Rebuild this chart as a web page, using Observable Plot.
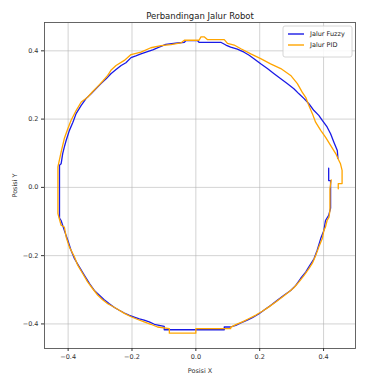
<!DOCTYPE html>
<html><head><meta charset="utf-8">
<script src="https://cdn.jsdelivr.net/npm/d3@7"></script>
<script src="https://cdn.jsdelivr.net/npm/@observablehq/plot@0.6"></script>
<style>body{margin:0;background:#fff;font-family:"DejaVu Sans",sans-serif}</style>
</head><body><div id="chart"></div>
<script>
const title = "Perbandingan Jalur Robot";
const seriesNames = ["Jalur Fuzzy", "Jalur PID"];
const seriesColors = ["#1a1ae6", "orange"];
const xTicks = [-0.4, -0.2, 0.0, 0.2, 0.4];
const yTicks = [-0.4, -0.2, 0.0, 0.2, 0.4];

const fuzzyX = [0.416,0.416,0.422,0.422,0.416,0.406,0.401,0.391,0.380,0.370,0.354,0.344,0.328,0.313,0.297,0.276,0.255,0.234,0.213,0.198,0.177,0.161,0.141,0.125,0.109,0.089,0.089,-0.099,-0.099,-0.115,-0.130,-0.146,-0.162,-0.177,-0.193,-0.208,-0.224,-0.240,-0.255,-0.271,-0.287,-0.302,-0.318,-0.333,-0.349,-0.365,-0.380,-0.391,-0.401,-0.412,-0.422,-0.427,-0.427,-0.422,-0.417,-0.412,-0.406,-0.396,-0.385,-0.375,-0.359,-0.344,-0.328,-0.313,-0.297,-0.281,-0.266,-0.250,-0.234,-0.219,-0.203,-0.188,-0.172,-0.156,-0.135,-0.115,-0.094,-0.057,-0.036,-0.031,0.005,0.010,0.078,0.094,0.109,0.130,0.151,0.167,0.182,0.203,0.224,0.245,0.266,0.286,0.307,0.323,0.339,0.354,0.370,0.385,0.396,0.411,0.422,0.432,0.443,0.445];
const fuzzyY = [0.056,0.020,0.020,-0.061,-0.082,-0.097,-0.126,-0.150,-0.184,-0.209,-0.233,-0.248,-0.267,-0.287,-0.302,-0.316,-0.331,-0.346,-0.360,-0.370,-0.382,-0.389,-0.397,-0.404,-0.409,-0.409,-0.417,-0.417,-0.407,-0.404,-0.401,-0.394,-0.389,-0.385,-0.380,-0.375,-0.368,-0.360,-0.352,-0.341,-0.329,-0.316,-0.302,-0.282,-0.258,-0.233,-0.209,-0.184,-0.155,-0.126,-0.097,-0.090,0.065,0.069,0.099,0.118,0.138,0.167,0.191,0.216,0.240,0.260,0.274,0.289,0.304,0.318,0.333,0.345,0.357,0.365,0.380,0.385,0.391,0.396,0.403,0.411,0.419,0.423,0.425,0.430,0.430,0.425,0.425,0.417,0.411,0.405,0.396,0.387,0.377,0.362,0.348,0.333,0.318,0.304,0.289,0.274,0.260,0.245,0.225,0.211,0.196,0.177,0.157,0.133,0.108,0.085];

const pidX = [0.424,0.420,0.420,0.417,0.411,0.406,0.401,0.396,0.385,0.375,0.365,0.354,0.339,0.323,0.307,0.292,0.271,0.250,0.229,0.208,0.188,0.167,0.146,0.125,0.109,0.109,0.000,0.000,-0.083,-0.083,-0.120,-0.141,-0.162,-0.182,-0.203,-0.224,-0.245,-0.260,-0.276,-0.292,-0.307,-0.323,-0.339,-0.354,-0.370,-0.380,-0.396,-0.406,-0.412,-0.422,-0.432,-0.432,-0.422,-0.412,-0.401,-0.391,-0.375,-0.359,-0.339,-0.323,-0.307,-0.292,-0.276,-0.266,-0.250,-0.224,-0.203,-0.172,-0.141,-0.109,-0.078,-0.047,-0.036,0.010,0.016,0.026,0.036,0.089,0.099,0.120,0.141,0.172,0.203,0.234,0.266,0.297,0.318,0.333,0.344,0.354,0.365,0.375,0.391,0.406,0.422,0.438,0.448,0.453,0.458,0.458,0.446,0.446];
const pidY = [0.022,-0.004,-0.067,-0.087,-0.097,-0.116,-0.126,-0.150,-0.175,-0.200,-0.222,-0.238,-0.258,-0.277,-0.294,-0.306,-0.321,-0.336,-0.350,-0.363,-0.374,-0.384,-0.394,-0.402,-0.410,-0.414,-0.414,-0.427,-0.427,-0.414,-0.409,-0.401,-0.394,-0.387,-0.379,-0.369,-0.357,-0.349,-0.341,-0.329,-0.316,-0.297,-0.277,-0.253,-0.228,-0.204,-0.175,-0.146,-0.116,-0.111,-0.077,0.060,0.103,0.143,0.172,0.196,0.225,0.250,0.264,0.281,0.296,0.311,0.328,0.343,0.357,0.372,0.389,0.396,0.409,0.415,0.418,0.423,0.431,0.431,0.441,0.441,0.433,0.433,0.422,0.417,0.406,0.391,0.377,0.362,0.348,0.328,0.304,0.279,0.264,0.240,0.216,0.191,0.167,0.147,0.123,0.099,0.079,0.069,0.050,0.011,0.011,-0.004];

const fuzzy = fuzzyX.map((x, i) => ({x, y: fuzzyY[i]}));
const pid = pidX.map((x, i) => ({x, y: pidY[i]}));
const fmt = d3.format(".1f");

const chart = Plot.plot({
  width: 369, height: 377,
  marginLeft: 44, marginRight: 14, marginTop: 22, marginBottom: 29,
  style: {fontFamily: "DejaVu Sans, sans-serif", fontSize: "6.5px", color: "#333", background: "#fff"},
  x: {domain: [-0.474, 0.50]},
  y: {domain: [-0.472, 0.483]},
  marks: [
    Plot.gridX(xTicks, {stroke: "#b0b0b0", strokeOpacity: 0.7, strokeWidth: 0.8}),
    Plot.gridY(yTicks, {stroke: "#b0b0b0", strokeOpacity: 0.7, strokeWidth: 0.8}),
    Plot.line(fuzzy, {x: "x", y: "y", stroke: seriesColors[0], strokeWidth: 1.3, curve: "linear"}),
    Plot.line(pid, {x: "x", y: "y", stroke: seriesColors[1], strokeWidth: 1.3, curve: "linear"}),
    Plot.frame({stroke: "#555", strokeWidth: 0.9}),
    Plot.axisX({ticks: xTicks, tickFormat: fmt, tickSize: 3, tickPadding: 3, label: "Posisi X", labelAnchor: "center", labelArrow: "none", labelOffset: 24}),
    Plot.axisY({ticks: yTicks, tickFormat: fmt, tickSize: 3, tickPadding: 3, label: "Posisi Y", labelAnchor: "center", labelArrow: "none", labelOffset: 32}),
    Plot.text([title], {frameAnchor: "top", dy: -10, fontSize: 8.5, fill: "#222"})
  ]
});
document.getElementById("chart").appendChild(chart);

// legend (upper right inside frame)
const svg = d3.select(chart);
const g = svg.append("g").attr("font-family", "DejaVu Sans, sans-serif").attr("font-size", 6.5).attr("text-anchor", "start");
const bx = 283, by = 26, bw = 69, bh = 31;
g.append("rect").attr("x", bx).attr("y", by).attr("width", bw).attr("height", bh)
  .attr("rx", 2).attr("fill", "#fff").attr("fill-opacity", 0.85).attr("stroke", "#ccc").attr("stroke-width", 0.8);
seriesNames.forEach((name, i) => {
  const yy = by + 8 + i * 11;
  g.append("line").attr("x1", bx + 5).attr("x2", bx + 21).attr("y1", yy).attr("y2", yy)
    .attr("stroke", seriesColors[i]).attr("stroke-width", 1.4);
  g.append("text").attr("x", bx + 27).attr("y", yy).attr("dy", "0.35em").attr("fill", "#222").attr("text-anchor", "start").text(name);
});
</script></body></html>
